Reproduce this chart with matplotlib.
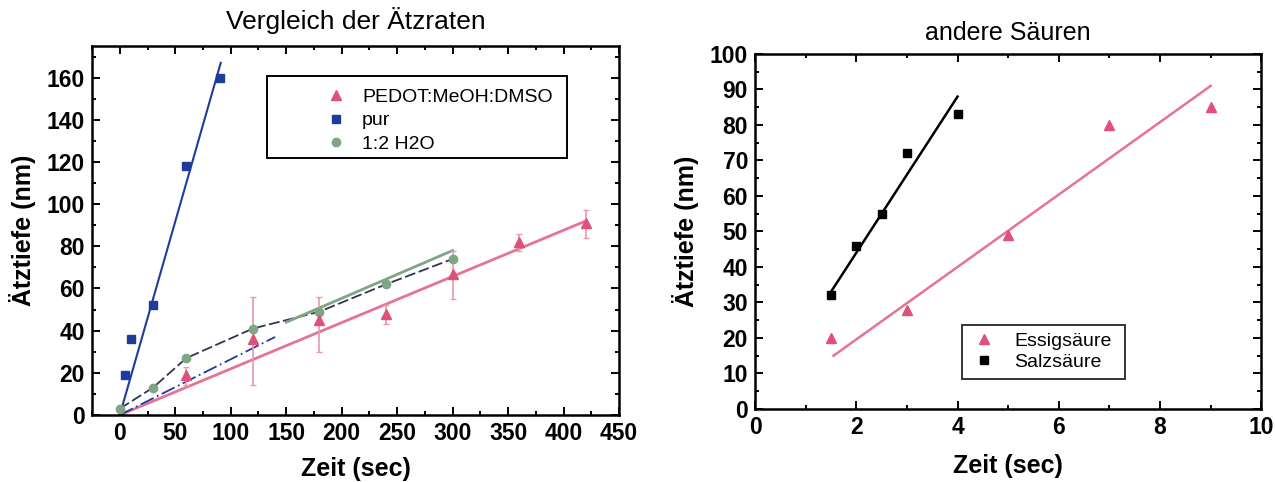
import matplotlib
matplotlib.use("Agg")
from matplotlib import pyplot as plt
from matplotlib.ticker import MultipleLocator
from matplotlib.patches import Rectangle
import numpy as np

plt.rcParams['font.family'] = ['Liberation Sans', 'DejaVu Sans']
narrow = ['Liberation Sans Narrow', 'Liberation Sans', 'DejaVu Sans']

# linkes Diagramm: Vergleich der Ätzraten
t_pedot = [60, 120, 180, 240, 300, 360, 420]
d_pedot = [19, 36, 45, 48, 67, 82, 91]
err_lo_pedot = [5, 22, 15, 5, 12, 4, 7]
err_hi_pedot = [4, 20, 11, 4, 11, 4, 6]
fit_pedot_t = [0, 420]
fit_pedot_d = [0, 92]

t_pur = [5, 10, 30, 60, 90]
d_pur = [19, 36, 52, 118, 160]
fit_pur_t = [0, 91]
fit_pur_d = [0, 167]
fit_pur2_t = [0, 140]
fit_pur2_d = [0, 37]

t_h2o = [0, 30, 60, 120, 180, 240, 300]
d_h2o = [3, 13, 27, 41, 49, 62, 74]
fit_h2o_t = [150, 300]
fit_h2o_d = [44, 78]

# rechtes Diagramm: andere Säuren
t_essig = [1.5, 3, 5, 7, 9]
d_essig = [20, 28, 49, 80, 85]
fit_essig_t = [1.55, 9]
fit_essig_d = [15, 91]

t_salz = [1.5, 2, 2.5, 3, 4]
d_salz = [32, 46, 55, 72, 83]
fit_salz_t = [1.5, 4]
fit_salz_d = [33, 88]

red = "#e0507a"
blue = "#1f3c9c"
green = "#7fa584"

fig = plt.figure(figsize=(12.75, 4.82), dpi=100)

def style(ax):
    ax.tick_params(which='both', direction='in', top=True, right=True, width=1.4, pad=5)
    ax.tick_params(which='major', length=6)
    ax.tick_params(which='minor', length=3)
    for lab in ax.get_xticklabels() + ax.get_yticklabels():
        lab.set_family(narrow)
        lab.set_fontsize(16.5)
        lab.set_fontweight('bold')
    for s in ax.spines.values():
        s.set_linewidth(1.8)

# ---- links
ax1 = fig.add_axes([0.0722, 0.139, 0.4133, 0.7656])
ax1.plot(fit_pedot_t, fit_pedot_d, color=red, lw=2, alpha=0.8)
ax1.plot(fit_pur_t, fit_pur_d, color=blue, lw=1.5)
ax1.plot(fit_pur2_t, fit_pur2_d, color=blue, lw=1.3, ls=(0, (8, 2, 1, 2)))
ax1.plot(t_h2o, d_h2o, color="#333355", lw=1.3, ls=(0, (6, 2)))
ax1.plot(fit_h2o_t, fit_h2o_d, color=green, lw=2)
h_pedot = ax1.errorbar(t_pedot, d_pedot, yerr=[err_lo_pedot, err_hi_pedot], fmt='^', color=red,
                       ms=7, ecolor="#e89aae", elinewidth=1.2, capsize=2)
h_pur, = ax1.plot(t_pur, d_pur, 's', color=blue, ms=6)
h_h2o, = ax1.plot(t_h2o, d_h2o, 'o', color=green, ms=6)
ax1.set_xlim(-25, 450)
ax1.set_ylim(0, 175)
ax1.xaxis.set_major_locator(MultipleLocator(50))
ax1.xaxis.set_minor_locator(MultipleLocator(25))
ax1.yaxis.set_major_locator(MultipleLocator(20))
ax1.yaxis.set_minor_locator(MultipleLocator(10))
style(ax1)
ax1.set_xlabel("Zeit (sec)", family=narrow, fontsize=18, fontweight='bold', labelpad=9)
ax1.set_ylabel("Ätztiefe (nm)", family=narrow, fontsize=18, fontweight='bold', labelpad=8)
ax1.set_title("Vergleich der Ätzraten", family=narrow, fontsize=19, pad=12)
ax1.add_patch(Rectangle((0.332, 0.697), 0.570, 0.221, transform=ax1.transAxes,
                        fill=False, edgecolor='black', lw=1.4, zorder=5))
leg1 = ax1.legend([h_pedot[0], h_pur, h_h2o], ["PEDOT:MeOH:DMSO", "pur", "1:2 H2O"],
                  loc='upper left', bbox_to_anchor=(0.435, 0.885),
                  prop={'family': narrow, 'size': 14}, frameon=False,
                  handlelength=1.5, handletextpad=0.6, labelspacing=0.3,
                  borderpad=0, borderaxespad=0)

# ---- rechts
ax2 = fig.add_axes([0.5922, 0.1515, 0.397, 0.7365])
ax2.plot(fit_essig_t, fit_essig_d, color=red, lw=1.8, alpha=0.8)
ax2.plot(fit_salz_t, fit_salz_d, color='black', lw=1.8)
h_essig, = ax2.plot(t_essig, d_essig, '^', color=red, ms=7)
h_salz, = ax2.plot(t_salz, d_salz, 's', color='black', ms=6)
ax2.set_xlim(0, 10)
ax2.set_ylim(0, 100)
ax2.xaxis.set_major_locator(MultipleLocator(2))
ax2.xaxis.set_minor_locator(MultipleLocator(1))
ax2.yaxis.set_major_locator(MultipleLocator(10))
ax2.yaxis.set_minor_locator(MultipleLocator(5))
style(ax2)
ax2.set_xlabel("Zeit (sec)", family=narrow, fontsize=18, fontweight='bold', labelpad=11)
ax2.set_ylabel("Ätztiefe (nm)", family=narrow, fontsize=18, fontweight='bold', labelpad=8)
ax2.set_title("andere Säuren", family=narrow, fontsize=18, pad=10)
leg2 = ax2.legend([h_essig, h_salz], ["Essigsäure", "Salzsäure"],
                  loc='upper left', bbox_to_anchor=(0.408, 0.073, 0.322, 0.164), mode='expand',
                  prop={'family': narrow, 'size': 14}, frameon=True, fancybox=False,
                  edgecolor='black', handlelength=1.5, handletextpad=0.8, labelspacing=0.15,
                  borderaxespad=0)
leg2.get_frame().set_linewidth(1.4)

fig.savefig("out.png", dpi=100)
